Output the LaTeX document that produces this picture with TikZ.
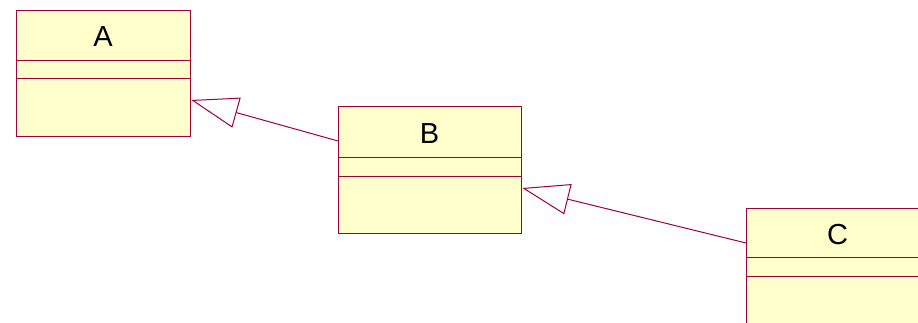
\documentclass[tikz,border=0pt]{standalone}
\usepackage{fontspec}
\setmainfont{Liberation Sans}
\usetikzlibrary{arrows.meta}
\definecolor{umlline}{RGB}{160,0,60}
\definecolor{umlfill}{RGB}{255,255,204}
\tikzset{
	umlclass/.style={draw=umlline, fill=umlfill, line width=1.3pt, anchor=north west, inner sep=0pt},
	classname/.style={inner sep=0pt, font=\fontsize{29}{29}\selectfont},
	inherit/.style={draw=umlline, line width=1pt, -{Triangle[length=47pt,width=31pt,fill=white]}}
}
\begin{document}
\begin{tikzpicture}[x=1pt,y=-1pt]
		\useasboundingbox (0,0) rectangle (918,323);
		\clip (0,0) rectangle (918,323);
		\foreach \n/\x/\y/\w/\h/\t/\a/\b in {A/16/10/174/126/27/51/69,B/338/106/183/127/28/52/71,C/746/208/183/127/27/49/68}
		{
			\node[umlclass, minimum width=\w pt, minimum height=\h pt] (class\n) at (\x,\y) {};
			\node[classname] (name\n) at (\x+\w/2,\y+\t) {\n};
			\draw[umlline, line width=1pt] (\x,\y+\a) -- (\x+\w,\y+\a);
			\draw[umlline, line width=1pt] (\x,\y+\b) -- (\x+\w,\y+\b);
		}
		\draw[inherit] ([yshift=-35pt]classB.north west) -- ([yshift=-90pt]classA.north east);
		\draw[inherit] ([yshift=-35pt]classC.north west) -- ([yshift=-82pt]classB.north east);
\end{tikzpicture}
\end{document}
